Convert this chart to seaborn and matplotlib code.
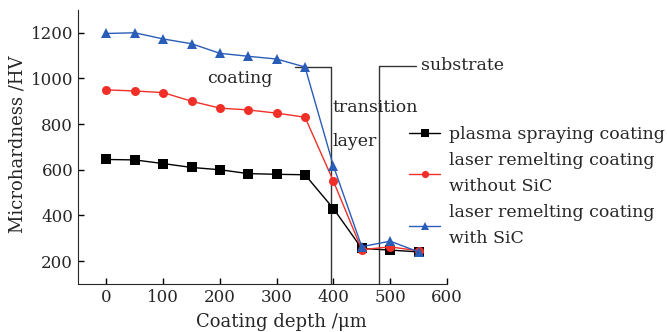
import pandas as pd
import matplotlib
matplotlib.use("Agg")
import matplotlib.pyplot as plt
import seaborn as sns

depth = [0, 50, 100, 150, 200, 250, 300, 350, 400, 450, 500, 550]
plasma = [645, 643, 627, 610, 600, 583, 580, 578, 430, 255, 248, 240]
laser_no_sic = [950, 945, 938, 900, 870, 862, 848, 830, 550, 250, 262, 245]
laser_sic = [1197, 1200, 1173, 1152, 1110, 1097, 1085, 1050, 617, 263, 287, 240]

names = ["plasma spraying coating",
         "laser remelting coating\nwithout SiC",
         "laser remelting coating\nwith SiC"]
colors = ["#000000", "#f03028", "#2a5db8"]
markers = ["s", "o", "^"]

df = pd.concat([
    pd.DataFrame({"depth": depth, "hv": vals, "series": name})
    for name, vals in zip(names, [plasma, laser_no_sic, laser_sic])
])

sns.set_style("ticks")
plt.rcParams["font.family"] = ["DejaVu Serif"]

fig = plt.figure(figsize=(6.67, 3.32), dpi=100)
ax = fig.add_axes([0.117, 0.145, 0.553, 0.825])

sns.lineplot(data=df, x="depth", y="hv", hue="series", style="series",
             palette=colors, markers=markers, dashes=False, markersize=6.5,
             markeredgewidth=0, linewidth=1, ax=ax)

# region brackets
ax.plot([333, 396, 396], [1050, 1050, 100], color="#333333", lw=1, zorder=1)
ax.plot([545, 481, 481], [1055, 1055, 100], color="#333333", lw=1, zorder=1)
ax.text(235, 998, "coating", ha="center", va="center", fontsize=12.5)
ax.text(398, 871, "transition", ha="left", va="center", fontsize=12.5)
ax.text(398, 722, "layer", ha="left", va="center", fontsize=12.5)
ax.text(555, 1055, "substrate", ha="left", va="center", fontsize=12.5)

ax.set_xlim(-50, 600)
ax.set_ylim(100, 1300)
ax.set_xticks(range(0, 601, 100))
ax.set_yticks(range(200, 1201, 200))
ax.set_xlabel("Coating depth /\u03bcm", fontsize=13)
ax.set_ylabel("Microhardness /HV", fontsize=13)
ax.xaxis.set_label_coords(0.55, -0.105)
ax.yaxis.set_label_coords(-0.14, 0.51)
ax.tick_params(axis="both", which="major", labelsize=12, length=4, width=1,
               direction="in", bottom=True, left=True, color="black")
sns.despine(ax=ax)

handles, labels = ax.get_legend_handles_labels()
leg = ax.legend(handles, labels, loc="upper left", bbox_to_anchor=(0.603, 0.64),
                bbox_transform=fig.transFigure, frameon=False, fontsize=12.5,
                handlelength=1.8, handletextpad=0.5, labelspacing=0.5,
                borderaxespad=0, markerscale=0.8)
for t in leg.get_texts():
    t.set_linespacing(1.7)

fig.savefig("out.png", dpi=100)
